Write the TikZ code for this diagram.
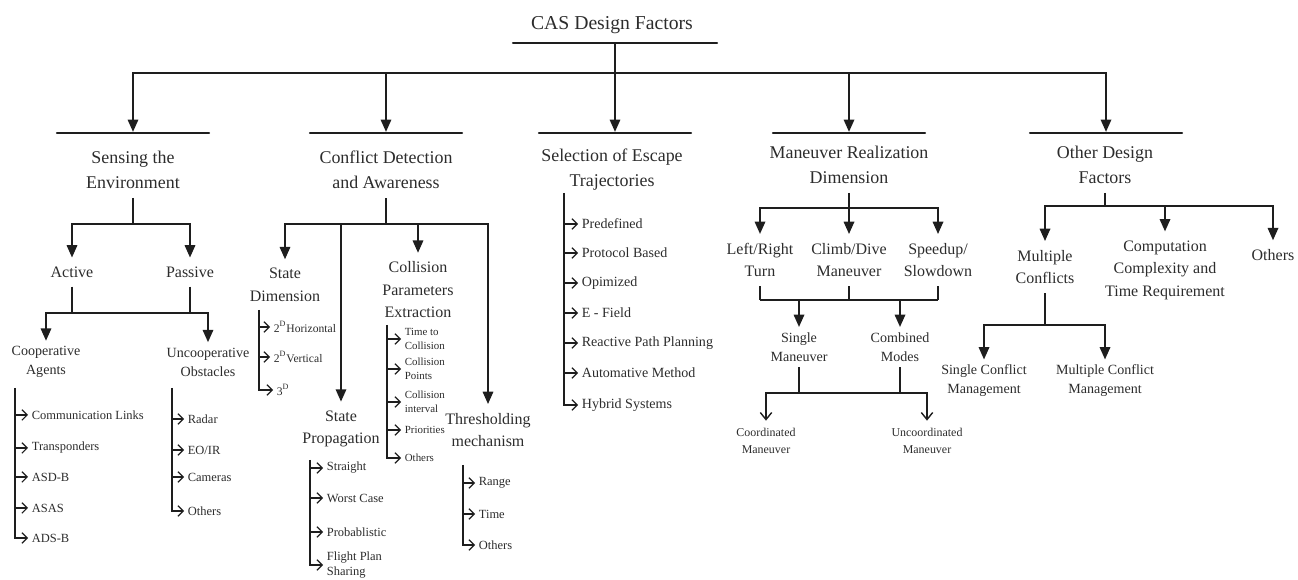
\documentclass[tikz,border=0pt]{standalone}
\usepackage{fontspec}
\setmainfont{Liberation Serif}
\usetikzlibrary{arrows.meta}
\definecolor{Ink}{HTML}{1E1E1E}
\definecolor{Type}{HTML}{2C2C2C}
\newcommand{\casfont}[2]{\fontsize{#1}{#2}\selectfont}
\tikzset{
  cas title/.style={font=\casfont{11.2}{14},text=Type,inner sep=2pt},
  cas head/.style={font=\casfont{10.2}{14.2},text=Type,align=center,inner xsep=2pt,inner ysep=5pt},
  cas sub/.style={font=\casfont{9.1}{12.8},text=Type,align=center,inner xsep=2pt,inner ysep=5pt},
  cas minor/.style={font=\casfont{8}{10.8},text=Type,align=center,inner xsep=2pt,inner ysep=3pt},
  cas leaf/.style={font=\casfont{6.8}{10},text=Type,align=center,inner xsep=2pt,inner ysep=4pt},
  cas item/.style={font=\casfont{7.1}{9},text=Type,anchor=west,align=left,inner sep=2pt},
  cas sel/.style={cas item,font=\casfont{8}{10}},
  cas tiny/.style={cas item,font=\casfont{6.2}{8}},
  cas bar/.style={draw=Ink,line width=1.3pt,line join=round,minimum height=0pt,inner sep=0pt},
  cas stem/.style={-{Triangle[length=7pt,width=6pt]},line width=0.9pt,draw=Ink},
  cas open/.style={-{Straight Barb[length=4pt,width=6.5pt]},line width=0.8pt,draw=Ink},
  cas join/.style={line width=0.9pt,draw=Ink},
  cas twig/.style={-{Straight Barb[length=3pt,width=6pt]},line width=0.7pt,draw=Ink}
}
\begin{document}
\begin{tikzpicture}[x=0.02cm,y=-0.02cm]
  \useasboundingbox (0,0) rectangle (1298,580);
  \node[cas title] (title) at (612,25) {CAS Design Factors};
  \node[cas bar,minimum width=4.08cm] (titleBar) at (615,43) {};
  \coordinate (bus) at (615,73);
  \node[cas bar,minimum width=3.04cm] (senseBar) at (133,133) {};
  \node[cas bar,minimum width=3.04cm] (confBar) at (386,133) {};
  \node[cas bar,minimum width=3.04cm] (selBar) at (615,133) {};
  \node[cas bar,minimum width=3.04cm] (manBar) at (849,133) {};
  \node[cas bar,minimum width=3.04cm] (othBar) at (1106,133) {};
  \draw[cas stem] (titleBar) -- (selBar);
  \foreach \n in {senseBar,confBar,manBar,othBar}
    \draw[cas stem] (bus) -| (\n);

  \node[cas head] (sense) at (133,170) {Sensing the\\Environment};
  \node[cas head] (conf) at (386,170) {Conflict Detection\\and Awareness};
  \node[cas head] (sel) at (612,170) {Selection of Escape\\Trajectories};
  \node[cas head] (man) at (849,165) {Maneuver Realization\\Dimension};
  \node[cas head] (oth) at (1105,165) {Other Design\\Factors};

  \coordinate (senseFork) at (133,224);
  \draw[cas join] (sense) -- (senseFork);
  \node[cas sub] (active) at (72,272) {Active};
  \node[cas sub] (passive) at (190,272) {Passive};
  \draw[cas stem] (senseFork) -| (active);
  \draw[cas stem] (senseFork) -| (passive);
  \coordinate (apFork) at (127,313);
  \draw[cas join] (active) -- (active |- apFork);
  \draw[cas join] (passive) -- (passive |- apFork);
  \node[cas minor] (coop) at (46,362) {Cooperative\\Agents};
  \node[cas minor] (uncoop) at (208,362) {Uncooperative\\Obstacles};
  \draw[cas stem] (apFork) -| (coop);
  \draw[cas stem] (apFork) -| (uncoop);

  \coordinate (coopRail) at (15,388);
  \node[cas item] (comm) at (28,415) {Communication Links};
  \node[cas item] (transp) at (28,448) {Transponders};
  \node[cas item] (asdb) at (28,477) {ASD-B};
  \node[cas item] (asas) at (28,508) {ASAS};
  \node[cas item] (adsb) at (28,538) {ADS-B};
  \foreach \n in {comm,transp,asdb,asas}
    \draw[cas twig] (coopRail |- \n.west) -- (\n.west);
  \draw[cas twig] (coopRail) |- (adsb.west);

  \coordinate (uncoopRail) at (172,388);
  \node[cas item] (radar) at (184,419) {Radar};
  \node[cas item] (eoir) at (184,450) {EO/IR};
  \node[cas item] (cams) at (184,477) {Cameras};
  \node[cas item] (uncOthers) at (184,511) {Others};
  \foreach \n in {radar,eoir,cams}
    \draw[cas twig] (uncoopRail |- \n.west) -- (\n.west);
  \draw[cas twig] (uncoopRail) |- (uncOthers.west);

  \coordinate (confFork) at (386,224);
  \draw[cas join] (conf) -- (confFork);
  \node[cas sub] (stateDim) at (285,285) {State\\Dimension};
  \node[cas sub] (colParam) at (418,290) {Collision\\Parameters\\Extraction};
  \node[cas sub] (stateProp) at (341,429) {State\\Propagation};
  \node[cas sub] (thresh) at (488,430) {Thresholding\\mechanism};
  \foreach \n in {stateDim,colParam,stateProp,thresh}
    \draw[cas stem] (confFork) -| (\n);

  \coordinate (dimRail) at (259,310);
  \node[cas item,font=\casfont{6.6}{9}] (hor) at (270,327) {2\textsuperscript{D}Horizontal};
  \node[cas item,font=\casfont{6.6}{9}] (vert) at (270,357) {2\textsuperscript{D}Vertical};
  \node[cas item,font=\casfont{6.6}{9}] (three) at (273,390) {3\textsuperscript{D}};
  \foreach \n in {hor,vert}
    \draw[cas twig] (dimRail |- \n.west) -- (\n.west);
  \draw[cas twig] (dimRail) |- (three.west);

  \coordinate (colRail) at (387,325);
  \node[cas tiny] (ttc) at (401,339) {Time to\\Collision};
  \node[cas tiny] (cpts) at (401,369) {Collision\\Points};
  \node[cas tiny] (cint) at (401,402) {Collision\\interval};
  \node[cas tiny] (prio) at (401,430) {Priorities};
  \node[cas tiny] (cpOthers) at (401,458) {Others};
  \foreach \n in {ttc,cpts,cint,prio}
    \draw[cas twig] (colRail |- \n.west) -- (\n.west);
  \draw[cas twig] (colRail) |- (cpOthers.west);

  \coordinate (propRail) at (310,460);
  \node[cas item] (straight) at (323,468) {Straight};
  \node[cas item] (worst) at (323,498) {Worst Case};
  \node[cas item] (prob) at (323,532) {Probablistic};
  \node[cas item] (flight) at (323,565) {Flight Plan\\Sharing};
  \foreach \n in {straight,worst,prob}
    \draw[cas twig] (propRail |- \n.west) -- (\n.west);
  \draw[cas twig] (propRail) |- (flight.west);

  \coordinate (threshRail) at (463,465);
  \node[cas item] (range) at (475,483) {Range};
  \node[cas item] (timeItem) at (475,514) {Time};
  \node[cas item] (thOthers) at (475,545) {Others};
  \foreach \n in {range,timeItem}
    \draw[cas twig] (threshRail |- \n.west) -- (\n.west);
  \draw[cas twig] (threshRail) |- (thOthers.west);

  \coordinate (selRail) at (564,193);
  \node[cas sel] (predef) at (578,224) {Predefined};
  \node[cas sel] (proto) at (578,253) {Protocol Based};
  \node[cas sel] (opim) at (578,283) {Opimized};
  \node[cas sel] (efield) at (578,313) {E - Field};
  \node[cas sel] (reactive) at (578,343) {Reactive Path Planning};
  \node[cas sel] (automat) at (578,373) {Automative Method};
  \node[cas sel] (hybrid) at (578,405) {Hybrid Systems};
  \foreach \n in {predef,proto,opim,efield,reactive,automat}
    \draw[cas twig] (selRail |- \n.west) -- (\n.west);
  \draw[cas twig] (selRail) |- (hybrid.west);

  \coordinate (manFork) at (849,208);
  \draw[cas join] (man) -- (manFork);
  \node[cas sub] (lr) at (760,260) {Left/Right\\Turn};
  \node[cas sub] (cd) at (849,260) {Climb/Dive\\Maneuver};
  \node[cas sub] (ss) at (938,260) {Speedup/\\Slowdown};
  \foreach \n in {lr,cd,ss}
    \draw[cas stem] (manFork) -| (\n);
  \coordinate (manJoin) at (849,300);
  \foreach \n in {lr,cd,ss}
    \draw[cas join] (\n) -- (\n |- manJoin);
  \draw[cas join] (lr |- manJoin) -- (ss |- manJoin);
  \node[cas minor] (single) at (799,347) {Single\\Maneuver};
  \node[cas minor] (combined) at (900,347) {Combined\\Modes};
  \draw[cas stem] (single |- manJoin) -- (single);
  \draw[cas stem] (combined |- manJoin) -- (combined);
  \coordinate (scJoin) at (846,393);
  \draw[cas join] (single) -- (single |- scJoin);
  \draw[cas join] (combined) -- (combined |- scJoin);
  \node[cas leaf] (coord) at (766,441) {Coordinated\\Maneuver};
  \node[cas leaf] (uncoord) at (927,441) {Uncoordinated\\Maneuver};
  \draw[cas open] (scJoin) -| (coord);
  \draw[cas open] (scJoin) -| (uncoord);

  \coordinate (othFork) at (1105,206);
  \draw[cas join] (oth) -- (othFork);
  \node[cas sub] (multi) at (1045,267) {Multiple\\Conflicts};
  \node[cas sub] (comp) at (1165,270) {Computation\\Complexity and\\Time Requirement};
  \node[cas sub] (others) at (1273,255) {Others};
  \foreach \n in {multi,comp,others}
    \draw[cas stem] (othFork) -| (\n);
  \coordinate (mcJoin) at (1045,325);
  \draw[cas join] (multi) -- (mcJoin);
  \node[cas minor] (sconf) at (984,381) {Single Conflict\\Management};
  \node[cas minor] (mconf) at (1105,381) {Multiple Conflict\\Management};
  \draw[cas stem] (mcJoin) -| (sconf);
  \draw[cas stem] (mcJoin) -| (mconf);
\end{tikzpicture}
\end{document}
